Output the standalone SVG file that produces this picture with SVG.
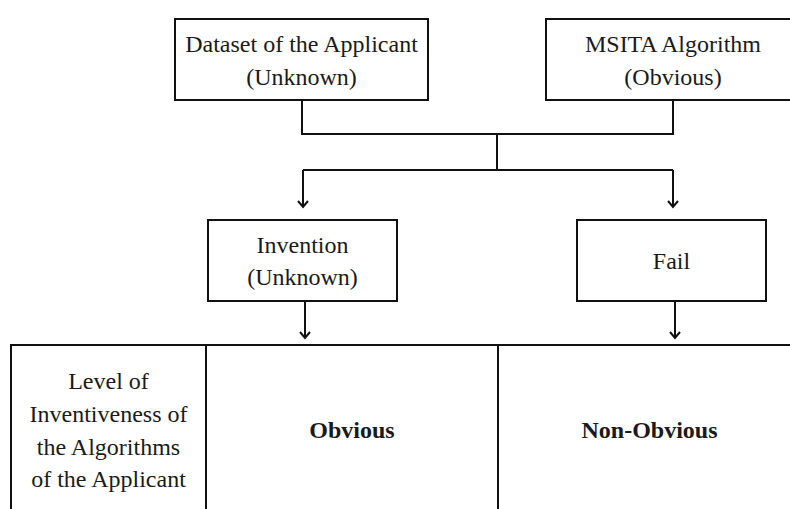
<svg xmlns="http://www.w3.org/2000/svg" width="790" height="509" viewBox="0 0 790 509">
<style>
.box{fill:#fff;stroke:#111;stroke-width:2}
.t{font-family:"Liberation Serif","Times New Roman",serif;font-size:24px;fill:#1a1a1a;text-anchor:middle}
.b{font-weight:bold}
.c{fill:none;stroke:#111;stroke-width:2}
</style>
<defs>
<marker id="arr" markerUnits="userSpaceOnUse" markerWidth="14" markerHeight="14" viewBox="-7 -7 14 14" refX="0" refY="0" orient="auto">
<path d="M-6,-5 L0,0 L-6,5" fill="none" stroke="#111" stroke-width="2"/>
</marker>
</defs>
<rect width="790" height="509" fill="#fff"/>
<g id="connectors">
<path class="c" d="M302,100 V134 H673 V100"/>
<path class="c" d="M497,134 V170"/>
<path class="c" d="M303,170 H673"/>
<path class="c" d="M303,170 V207" marker-end="url(#arr)"/>
<path class="c" d="M673,170 V207" marker-end="url(#arr)"/>
<path class="c" d="M305,301 V338" marker-end="url(#arr)"/>
<path class="c" d="M675,301 V338" marker-end="url(#arr)"/>
</g>
<g id="dataset">
<rect class="box" x="175" y="19" width="253" height="81"/>
<text class="t" x="301.5" y="52">Dataset of the Applicant</text>
<text class="t" x="301.5" y="85">(Unknown)</text>
</g>
<g id="msita">
<rect class="box" x="546" y="19" width="254" height="81"/>
<text class="t" x="673" y="52">MSITA Algorithm</text>
<text class="t" x="673" y="85">(Obvious)</text>
</g>
<g id="invention">
<rect class="box" x="208" y="220" width="189" height="81"/>
<text class="t" x="302.5" y="253">Invention</text>
<text class="t" x="302.5" y="285">(Unknown)</text>
</g>
<g id="fail">
<rect class="box" x="577" y="220" width="189" height="81"/>
<text class="t" x="671.5" y="269">Fail</text>
</g>
<g id="table">
<rect class="box" x="11" y="345" width="800" height="180"/>
<line class="c" x1="206" y1="345" x2="206" y2="525"/>
<line class="c" x1="498" y1="345" x2="498" y2="525"/>
<text class="t" x="108.5" y="389">Level of</text>
<text class="t" x="108.5" y="422">Inventiveness of</text>
<text class="t" x="108.5" y="455">the Algorithms</text>
<text class="t" x="108.5" y="487">of the Applicant</text>
<text class="t b" x="352" y="438">Obvious</text>
<text class="t b" x="649.5" y="438">Non-Obvious</text>
</g>
</svg>
